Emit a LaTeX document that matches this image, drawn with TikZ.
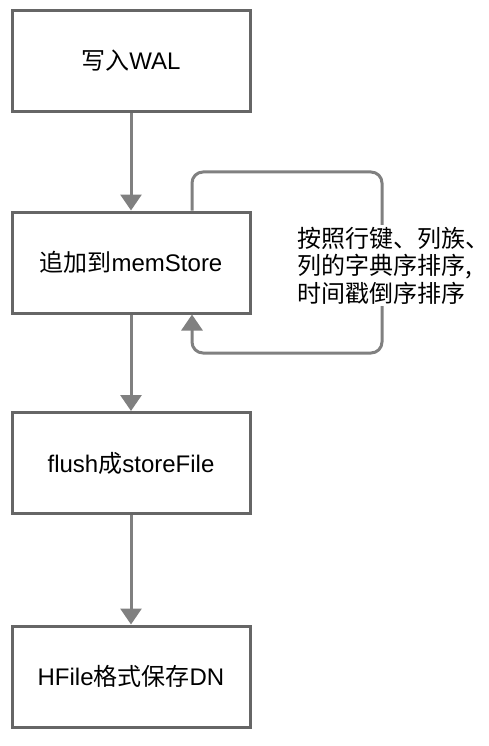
\documentclass[tikz,border=0pt]{standalone}
\usepackage{fontspec}
\setmainfont{Liberation Sans}
\newfontfamily\cjk{Noto Sans CJK SC}
\usetikzlibrary{arrows.meta}
\definecolor{boxline}{HTML}{666666}
\definecolor{arrline}{HTML}{808080}
\begin{document}
\begin{tikzpicture}[x=1pt,y=-1pt,
  stepbox/.style={draw=boxline,line width=3pt,minimum width=238pt,minimum height=101pt,inner sep=0pt,font=\fontsize{24}{28}\selectfont},
  flow/.style={draw=arrline,line width=3pt,-{Triangle[width=21pt,length=16pt]}}]
\useasboundingbox (0,0) rectangle (488,746);
\node[stepbox] (b1) at (131,61) {{\cjk 写入}WAL};
\node[stepbox] (b2) at (131,262.5) {{\cjk 追加到}memStore};
\node[stepbox] (b3) at (131,463) {flush{\cjk 成}storeFile};
\node[stepbox] (b4) at (131,676.5) {HFile{\cjk 格式保存}DN};
\draw[flow] (b1) -- (b2);
\draw[flow] (b2) -- (b3);
\draw[flow] (b3) -- (b4);
\coordinate (lx) at (192,0);
\coordinate (ltop) at (382,172);
\coordinate (lbot) at (382,353);
\draw[flow,rounded corners=11pt] (b2.north -| lx) -- (lx |- ltop) -- (ltop) -- (lbot) -- (lx |- lbot) -- (b2.south -| lx);
\node[anchor=north west,align=left,inner xsep=1pt,inner ysep=2pt,fill=white,font=\cjk\fontsize{24}{27.5}\selectfont] (lab) at (296,225) {按照行键、列族、\\列的字典序排序,\\时间戳倒序排序};
\end{tikzpicture}
\end{document}
